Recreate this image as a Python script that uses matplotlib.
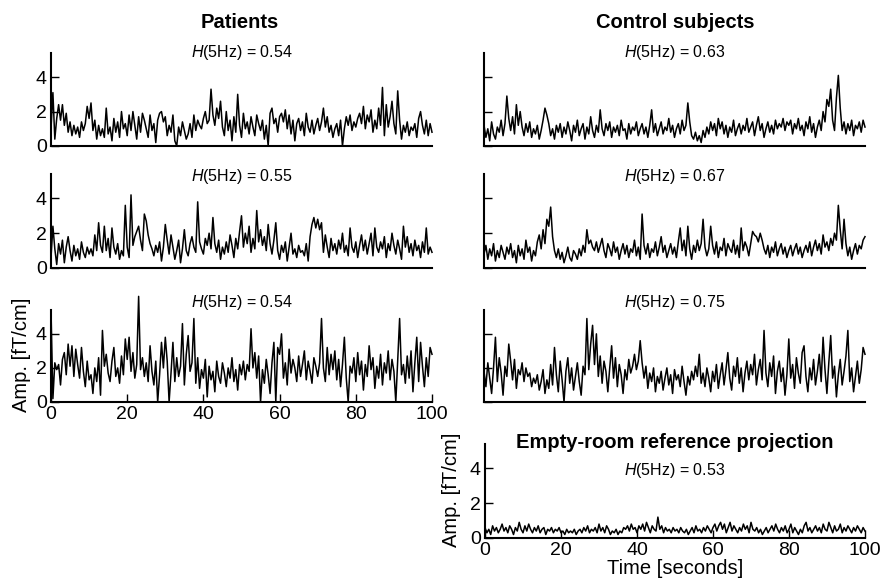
import numpy as np
import matplotlib
matplotlib.use("Agg")
import matplotlib.pyplot as plt

plt.rcParams["font.family"] = ["Liberation Sans", "DejaVu Sans"]
plt.rcParams["mathtext.fontset"] = "custom"
plt.rcParams["mathtext.rm"] = "Liberation Sans"
plt.rcParams["mathtext.it"] = "Liberation Sans:italic"

# amplitude traces [fT/cm], one sample every 0.5 s (0..100 s)
patient_1 = [
    1.0, 3.1, 0.4, 1.6, 2.4, 1.5, 2.4, 1.2, 1.9, 0.8, 1.4, 0.6, 1.2, 0.7, 1.1, 0.5, 1.4, 0.9, 1.3, 2.3,
    1.6, 2.5, 0.9, 1.5, 0.4, 1.2, 0.6, 1.0, 0.5, 2.2, 0.7, 1.1, 0.3, 1.6, 0.8, 1.4, 0.5, 2.0, 1.0, 1.3,
    0.6, 1.8, 0.9, 2.0, 1.2, 0.4, 1.7, 0.8, 1.9, 1.5, 1.0, 0.5, 1.8, 0.9, 1.3, 0.2, 1.5, 1.9, 2.0, 1.4,
    1.7, 0.6, 1.2, 0.8, 1.8, 0.3, 0.0, 1.1, 0.6, 1.4, 0.9, 0.4, 0.7, 1.3, 0.5, 1.8, 0.9, 1.5, 1.2, 1.0,
    1.6, 2.0, 1.3, 1.5, 3.3, 1.8, 1.2, 2.2, 1.6, 2.6, 1.1, 0.6, 2.0, 0.9, 1.5, 0.3, 1.7, 0.8, 3.0, 1.2,
    0.5, 1.9, 1.0, 1.4, 0.7, 1.7, 1.1, 0.6, 1.8, 1.3, 0.9, 1.5, 0.4, 1.2, 0.0, 1.9, 2.2, 1.3, 1.6, 0.8,
    1.7, 1.9, 1.4, 2.1, 1.0, 1.8, 0.7, 1.5, 0.3, 1.3, 1.6, 0.9, 1.4, 0.6, 1.9, 1.1, 0.8, 1.5, 0.7, 1.2,
    1.6, 0.9, 1.4, 2.2, 1.1, 1.7, 0.8, 1.2, 0.5, 1.0, 1.3, 0.6, 1.5, 0.0, 1.0, 1.7, 1.2, 1.8, 0.9, 1.4,
    1.1, 1.6, 1.9, 1.3, 2.3, 1.0, 1.8, 1.4, 2.1, 0.8, 1.5, 1.0, 2.2, 1.2, 3.4, 0.6, 2.4, 1.1, 1.7, 2.6,
    1.3, 0.7, 3.2, 1.5, 0.4, 1.2, 0.8, 1.4, 0.6, 1.1, 0.9, 1.3, 0.5, 1.6, 2.0, 1.2, 0.7, 1.5, 0.6, 1.3, 0.8,
]
patient_2 = [
    0.6, 2.4, 1.1, 0.2, 1.4, 0.8, 1.6, 0.3, 1.2, 1.8, 1.0, 0.4, 1.3, 0.7, 1.1, 0.5, 1.5, 0.9, 0.6, 1.2,
    0.8, 1.1, 0.7, 1.9, 1.0, 2.6, 1.3, 0.9, 2.4, 1.0, 1.7, 0.6, 2.3, 1.2, 0.8, 1.4, 0.5, 1.0, 0.7, 3.6,
    1.2, 0.6, 4.2, 1.3, 1.8, 2.1, 2.4, 1.6, 1.0, 3.1, 2.7, 1.9, 1.4, 1.1, 0.7, 1.3, 0.9, 1.5, 0.4, 1.2,
    2.5, 1.6, 0.8, 1.9, 1.2, 0.5, 1.0, 1.6, 0.3, 1.1, 2.2, 1.0, 0.7, 1.4, 1.8, 1.2, 0.9, 3.8, 1.5, 1.1,
    0.8, 1.7, 1.3, 2.0, 1.1, 2.9, 1.4, 0.9, 1.6, 0.5, 1.2, 0.8, 1.5, 0.9, 1.9, 1.3, 0.6, 1.7, 1.1, 2.1,
    3.0, 1.2, 2.0, 1.4, 2.4, 0.9, 1.7, 1.1, 3.3, 1.5, 2.2, 1.3, 1.8, 1.0, 2.5, 1.4, 0.8, 1.6, 2.6, 1.0,
    0.5, 1.3, 0.9, 1.5, 0.4, 1.2, 2.0, 0.8, 1.1, 0.6, 1.3, 0.9, 1.0, 0.7, 1.4, 0.4, 1.8, 2.5, 2.9, 2.3,
    2.8, 2.2, 2.6, 0.9, 1.9, 1.2, 0.6, 1.7, 1.0, 1.4, 0.8, 1.6, 1.1, 2.0, 0.9, 1.3, 0.7, 2.3, 1.2, 0.9,
    1.5, 0.6, 1.3, 1.9, 1.0, 1.6, 0.8, 1.4, 2.0, 0.7, 2.3, 1.2, 0.9, 1.5, 1.1, 1.8, 0.6, 1.4, 1.0, 2.0,
    1.3, 0.8, 1.6, 1.1, 0.5, 2.4, 1.2, 1.8, 0.9, 1.4, 0.7, 1.6, 1.0, 1.3, 0.6, 1.5, 0.9, 2.3, 0.8, 1.2, 0.9,
]
patient_3 = [
    5.4, 0.2, 2.3, 1.9, 2.2, 1.0, 2.5, 2.9, 1.6, 3.4, 2.1, 3.3, 1.5, 3.1, 2.2, 1.4, 3.2, 1.8, 0.9, 2.4,
    1.3, 1.6, 0.5, 2.0, 1.2, 2.6, 0.4, 4.2, 2.1, 2.8, 1.7, 1.2, 2.4, 3.2, 1.5, 2.0, 1.1, 2.7, 1.6, 3.7,
    2.5, 3.8, 1.8, 2.9, 1.4, 2.2, 6.2, 1.9, 2.6, 1.5, 2.3, 1.2, 3.3, 1.8, 1.0, 2.4, 0.0, 1.6, 3.5, 2.0,
    3.8, 2.4, 0.0, 1.7, 3.5, 1.2, 2.6, 1.5, 2.1, 4.6, 1.0, 2.8, 3.9, 1.8, 2.3, 4.9, 1.1, 2.6, 0.8, 1.9,
    1.4, 2.5, 0.3, 2.1, 1.3, 1.8, 0.6, 2.4, 1.5, 1.1, 2.3, 1.7, 0.9, 2.0, 1.4, 2.6, 1.2, 1.9, 0.7, 2.2,
    1.6, 2.4, 1.3, 2.2, 1.8, 4.3, 2.0, 2.9, 1.4, 2.7, 0.0, 1.9, 1.1, 2.5, 1.6, 0.5, 2.3, 3.5, 0.0, 3.2,
    2.8, 4.0, 1.4, 2.3, 1.0, 3.1, 1.7, 2.5, 2.0, 1.2, 2.7, 1.5, 2.2, 3.0, 1.3, 2.4, 1.8, 1.1, 2.6, 2.1,
    1.5, 2.3, 4.9, 2.0, 1.2, 3.2, 1.6, 2.8, 1.9, 3.0, 1.3, 2.5, 0.9, 2.2, 3.8, 1.4, 0.0, 2.1, 1.7, 2.6,
    1.2, 2.9, 1.6, 2.4, 0.7, 2.2, 1.5, 3.3, 1.9, 2.6, 0.8, 2.1, 1.4, 2.8, 1.0, 2.3, 1.7, 3.0, 1.3, 2.5,
    1.8, 0.0, 2.4, 4.9, 1.6, 2.2, 1.1, 2.7, 1.4, 3.0, 0.6, 2.3, 3.8, 1.2, 3.5, 2.1, 0.9, 2.6, 1.5, 3.2, 2.8,
]
control_1 = [
    1.2, 0.5, 1.0, 0.3, 1.4, 0.7, 0.4, 1.1, 0.8, 1.5, 0.6, 1.3, 2.9, 1.6, 0.9, 1.7, 0.7, 2.4, 1.2, 2.0,
    1.1, 0.6, 1.3, 0.8, 1.4, 0.5, 1.0, 0.7, 1.2, 0.4, 0.9, 1.5, 2.2, 1.8, 1.3, 0.6, 1.0, 0.4, 1.2, 0.8,
    1.3, 0.5, 1.1, 0.7, 1.4, 0.9, 0.3, 1.2, 0.8, 1.5, 0.6, 1.0, 1.3, 0.4, 1.1, 0.7, 1.7, 0.9, 0.5, 1.2,
    0.8, 2.1, 1.0, 0.6, 1.3, 0.9, 1.4, 0.5, 1.1, 0.8, 1.2, 0.6, 1.5, 0.9, 1.0, 0.4, 1.3, 0.7, 1.1, 0.9,
    1.4, 0.6, 1.0, 1.3, 0.7, 1.1, 0.5, 1.2, 2.1, 0.8, 1.3, 0.6, 1.0, 1.4, 0.7, 1.1, 0.9, 1.6, 0.8, 1.2,
    0.5, 1.0, 1.3, 0.7, 1.5, 0.9, 1.2, 2.5, 1.4, 0.6, 0.4, 0.8, 0.3, 0.6, 0.2, 0.9, 0.5, 1.1, 0.7, 1.4,
    0.9, 1.3, 0.6, 1.6, 1.0, 1.4, 0.7, 1.2, 0.5, 1.1, 0.8, 1.5, 0.6, 1.0, 1.3, 0.7, 1.2, 0.9, 1.6, 0.8,
    1.1, 1.4, 0.6, 1.2, 1.7, 0.9, 1.3, 0.5, 1.0, 1.4, 0.8, 1.2, 0.7, 1.5, 1.0, 1.3, 1.1, 1.6, 0.9, 1.4,
    1.2, 1.5, 0.7, 1.3, 1.0, 1.6, 0.9, 1.2, 0.6, 1.4, 1.0, 1.7, 0.8, 1.3, 0.5, 1.1, 1.5, 0.9, 2.0, 1.4,
    2.7, 2.3, 3.3, 1.5, 0.9, 2.8, 4.1, 2.2, 0.9, 1.4, 0.7, 1.3, 0.9, 1.5, 0.6, 1.2, 1.0, 1.4, 0.8, 1.5, 1.1,
]
control_2 = [
    0.8, 1.3, 0.5, 1.1, 0.7, 1.4, 0.4, 1.0, 0.6, 1.3, 0.9, 0.5, 1.2, 0.8, 1.4, 0.6, 1.0, 0.3, 1.3, 0.7,
    1.1, 0.5, 1.6, 0.9, 1.2, 0.4, 1.0, 0.7, 1.5, 1.9, 1.1, 2.2, 1.4, 2.8, 2.4, 3.5, 1.8, 1.0, 0.6, 1.1,
    0.5, 0.9, 0.3, 0.7, 1.2, 0.6, 0.4, 1.0, 0.8, 0.5, 1.1, 0.7, 1.3, 0.9, 2.2, 1.4, 1.6, 1.2, 1.0, 1.5,
    0.9, 1.3, 1.7, 1.0, 0.6, 1.4, 1.1, 0.7, 1.5, 0.9, 1.2, 0.5, 1.0, 1.4, 0.8, 1.3, 0.6, 1.1, 0.9, 1.6,
    0.7, 1.2, 0.5, 3.1, 1.3, 0.8, 1.4, 0.6, 1.1, 0.9, 1.5, 0.7, 1.2, 1.8, 0.9, 1.3, 0.6, 1.0, 1.4, 0.8,
    1.2, 0.6, 1.5, 2.3, 1.0, 1.6, 0.7, 2.4, 1.1, 0.5, 1.3, 0.9, 1.6, 1.0, 1.4, 2.8, 1.2, 0.7, 1.1, 2.4,
    1.3, 0.8, 1.5, 0.6, 1.2, 1.0, 1.7, 0.7, 1.4, 1.1, 0.9, 1.6, 0.8, 1.3, 0.6, 2.3, 1.0, 1.5, 1.2, 0.7,
    1.4, 2.1, 1.9, 1.8, 1.5, 2.0, 1.6, 1.1, 0.8, 1.3, 0.6, 1.2, 0.9, 1.5, 0.7, 1.1, 1.4, 0.8, 1.2, 0.6,
    1.0, 1.3, 0.7, 1.1, 1.4, 0.8, 1.2, 0.6, 1.0, 1.3, 0.9, 1.5, 0.7, 1.2, 1.6, 1.0, 1.4, 0.8, 1.9, 1.2,
    1.5, 1.0, 1.7, 1.3, 2.0, 1.6, 3.6, 2.2, 1.1, 2.8, 1.4, 0.7, 1.2, 0.5, 1.0, 1.4, 0.8, 1.3, 1.1, 1.6, 1.8,
]
control_3 = [
    1.8, 0.9, 2.3, 1.4, 0.5, 2.0, 3.8, 1.2, 2.6, 1.7, 0.4, 2.1, 1.5, 3.4, 2.4, 1.3, 2.5, 0.8, 1.9, 1.6,
    2.3, 1.2, 2.0, 1.5, 1.7, 0.9, 1.4, 1.1, 1.6, 0.7, 1.2, 1.9, 0.5, 1.3, 0.8, 2.2, 1.0, 3.2, 1.6, 0.6,
    2.4, 1.3, 0.0, 1.8, 2.6, 1.1, 2.0, 0.7, 1.5, 2.3, 1.2, 0.4, 2.1, 1.6, 4.9, 1.9, 3.4, 4.5, 2.2, 4.0,
    1.5, 2.7, 1.1, 2.4, 1.8, 0.6, 2.0, 3.3, 1.4, 2.6, 0.9, 2.2, 1.6, 0.5, 1.9, 1.3, 2.5, 1.7, 2.1, 2.8,
    1.9, 2.4, 3.6, 2.3, 1.4, 2.1, 0.8, 1.7, 1.2, 2.0, 0.6, 1.5, 1.1, 1.8, 0.7, 1.4, 2.0, 1.0, 1.6, 0.5,
    1.9, 1.3, 1.6, 0.9, 2.1, 1.2, 0.4, 1.5, 1.0, 1.8, 1.3, 2.1, 1.5, 2.8, 1.1, 1.7, 0.9, 2.0, 1.4, 0.6,
    1.8, 1.2, 2.2, 0.8, 1.6, 2.3, 1.0, 1.9, 2.9, 1.4, 0.7, 2.1, 1.5, 2.6, 1.1, 2.0, 0.6, 1.7, 2.4, 1.3,
    2.2, 1.6, 2.8, 1.0, 1.9, 2.5, 1.3, 4.2, 1.7, 0.9, 2.3, 1.5, 2.7, 0.5, 1.8, 2.4, 1.2, 2.0, 0.4, 1.6,
    3.7, 1.4, 2.2, 0.8, 2.6, 1.7, 1.1, 2.9, 3.3, 1.5, 0.6, 2.0, 1.3, 2.5, 1.0, 1.8, 2.8, 1.2, 3.8, 1.9,
    0.5, 2.3, 3.9, 1.4, 2.1, 0.3, 1.6, 2.5, 1.0, 1.8, 2.7, 4.2, 1.2, 2.0, 0.6, 1.5, 2.4, 1.1, 1.9, 3.2, 2.8,
]
empty_room = [
    0.6, 0.3, 0.5, 0.2, 0.7, 0.4, 0.6, 0.3, 0.5, 0.8, 0.4, 0.6, 0.3, 0.7, 0.5, 0.2, 0.6, 0.4, 0.9, 0.5,
    0.3, 0.7, 0.4, 0.8, 0.5, 0.3, 0.6, 0.4, 0.7, 0.3, 0.5, 0.6, 0.2, 0.5, 0.4, 0.6, 0.3, 0.5, 0.4, 0.6,
    0.3, 0.4, 0.2, 0.5, 0.3, 0.4, 0.3, 0.5, 0.2, 0.4, 0.5, 0.3, 0.6, 0.4, 0.7, 0.3, 0.5, 0.4, 0.6, 0.3,
    0.8, 0.4, 0.6, 0.3, 0.7, 0.5, 0.2, 0.4, 0.3, 0.5, 0.2, 0.4, 0.3, 0.6, 0.5, 0.7, 0.4, 0.8, 0.5, 0.6,
    0.3, 0.7, 0.5, 0.8, 0.4, 0.9, 0.6, 0.3, 0.7, 0.5, 0.4, 1.2, 0.5, 0.7, 0.3, 0.6, 0.4, 0.5, 0.3, 0.6,
    0.4, 0.5, 0.3, 0.6, 0.4, 0.3, 0.5, 0.2, 0.4, 0.6, 0.3, 0.7, 0.4, 0.5, 0.3, 0.6, 0.4, 0.7, 0.5, 0.3,
    0.6, 0.8, 0.4, 0.7, 0.9, 0.5, 0.8, 0.3, 0.6, 0.9, 0.4, 0.7, 0.5, 0.3, 0.6, 0.4, 0.8, 0.5, 0.7, 0.3,
    0.9, 0.5, 0.4, 0.6, 0.3, 0.5, 0.2, 0.4, 0.6, 0.3, 0.5, 0.7, 0.4, 0.8, 0.5, 0.3, 0.6, 0.4, 0.7, 0.3,
    0.5, 0.8, 0.3, 0.6, 0.4, 0.2, 0.5, 0.3, 0.7, 0.9, 0.4, 0.6, 0.3, 0.5, 0.7, 0.4, 0.6, 0.3, 0.8, 0.5,
    0.4, 0.9, 0.6, 0.3, 0.7, 0.4, 0.5, 0.8, 0.3, 0.6, 0.4, 0.7, 0.5, 0.3, 0.6, 0.4, 0.7, 0.5, 0.3, 0.6, 0.4,
]

hurst_patients = [0.54, 0.55, 0.54]
hurst_controls = [0.63, 0.67, 0.75]
hurst_empty = 0.53

time_ticks = [0, 20, 40, 60, 80, 100]
amp_ticks = [0, 2, 4]


def to_fig(left, top, right, bottom, w=884, h=585):
    # pixel box -> figure fraction rect
    return [left / w, 1 - bottom / h, (right - left) / w, (bottom - top) / h]


def style_axis(ax, xlabels=False, ylabels=True):
    for side in ("top", "right"):
        ax.spines[side].set_visible(False)
    for side in ("left", "bottom"):
        ax.spines[side].set_linewidth(1.5)
    ax.set_xlim(0, 100)
    ax.set_ylim(0, 5.4)
    ax.set_yticks(amp_ticks)
    ax.tick_params(direction="in", length=6, width=1, labelsize=14, pad=3)
    if xlabels:
        ax.set_xticks(time_ticks)
    else:
        ax.set_xticks([])
    if not ylabels:
        ax.set_yticklabels([])


def draw_trace(ax, values, h, text_y):
    values = np.array(values)
    t = np.linspace(0, 100, len(values))
    ax.plot(t, values, color="black", lw=1.1, clip_on=False)
    ax.text(0.5, text_y, "$H$(5Hz) = %.2f" % h, transform=ax.transAxes,
            ha="center", va="center", fontsize=11.5)


fig = plt.figure(figsize=(8.84, 5.85), dpi=100)

rows = [(53, 146), (174, 268), (310, 402)]
text_ys = [1.01, 0.97, 1.08]
left_col = (51, 432)
right_col = (484, 865)

patients = [patient_1, patient_2, patient_3]
controls = [control_1, control_2, control_3]

for i, (top, bottom) in enumerate(rows):
    last = i == len(rows) - 1
    ax = fig.add_axes(to_fig(left_col[0], top, left_col[1], bottom))
    style_axis(ax, xlabels=last, ylabels=True)
    draw_trace(ax, patients[i], hurst_patients[i], text_ys[i])

    ax = fig.add_axes(to_fig(right_col[0], top, right_col[1], bottom))
    style_axis(ax, xlabels=False, ylabels=False)
    draw_trace(ax, controls[i], hurst_controls[i], text_ys[i])

# empty-room panel
ax = fig.add_axes(to_fig(485, 444, 865, 538))
style_axis(ax, xlabels=True, ylabels=True)
draw_trace(ax, empty_room, hurst_empty, 0.72)
ax.text(0.5, 1.02, "Empty-room reference projection", transform=ax.transAxes,
        ha="center", va="center", fontsize=14.5, fontweight="bold")
ax.set_xlabel("Time [seconds]", fontsize=14.5, labelpad=0)

fig.text(240 / 884, 1 - 22 / 585, "Patients", ha="center", va="center",
         fontsize=14.5, fontweight="bold")
fig.text(675 / 884, 1 - 22 / 585, "Control subjects", ha="center", va="center",
         fontsize=14.5, fontweight="bold")
fig.text(22 / 884, 1 - 355 / 585, "Amp. [fT/cm]", rotation=90, ha="center",
         va="center", fontsize=14.5)
fig.text(452 / 884, 1 - 490 / 585, "Amp. [fT/cm]", rotation=90, ha="center",
         va="center", fontsize=14.5)

fig.savefig("out.png", dpi=100)
